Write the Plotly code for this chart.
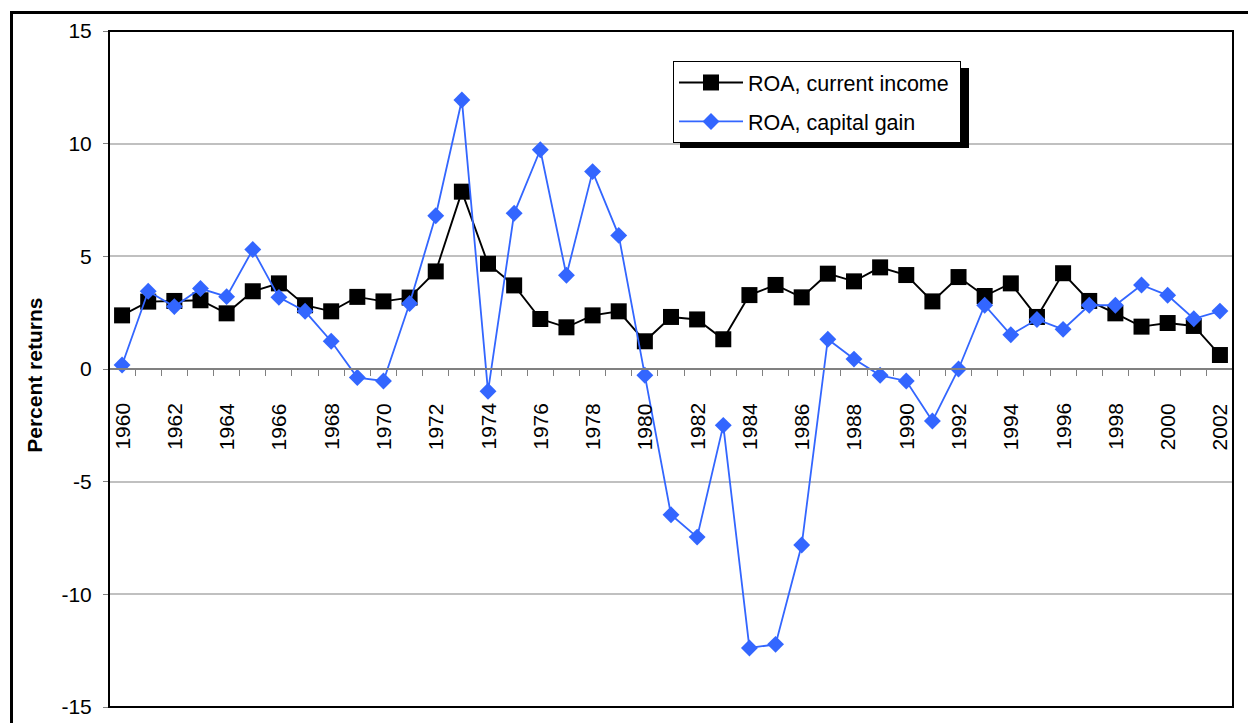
import plotly.graph_objects as go

years = list(range(1960, 2003))
roa_current_income = [2.38, 2.99, 3.02, 3.05, 2.47, 3.45, 3.80, 2.83, 2.56, 3.20,
                      3.00, 3.17, 4.33, 7.87, 4.67, 3.71, 2.22, 1.85, 2.38, 2.56,
                      1.23, 2.31, 2.20, 1.32, 3.28, 3.73, 3.18, 4.23, 3.89, 4.51,
                      4.17, 3.00, 4.08, 3.24, 3.80, 2.31, 4.25, 3.02, 2.47, 1.88,
                      2.04, 1.91, 0.62]
roa_capital_gain = [0.18, 3.45, 2.77, 3.57, 3.21, 5.30, 3.18, 2.56, 1.23, -0.38,
                    -0.53, 2.91, 6.80, 11.94, -0.99, 6.91, 9.73, 4.16, 8.76, 5.93,
                    -0.28, -6.47, -7.46, -2.50, -12.38, -12.22, -7.81, 1.32, 0.44, -0.28,
                    -0.53, -2.31, 0.00, 2.83, 1.52, 2.20, 1.76, 2.83, 2.83, 3.73,
                    3.27, 2.23, 2.57]
x_tick_vals = list(range(1960, 2003, 2))
x_tick_text = [str(v) for v in x_tick_vals]
y_tick_vals = [-15, -10, -5, 0, 5, 10, 15]
y_tick_text = ["-15", "-10", "-5", "0", "5", "10", "15"]

FONT = "Arial, Liberation Sans, sans-serif"
W, H = 1248, 723
ML, MR, MT, MB = 109, 15, 31, 16
PW, PH = W - ML - MR, H - MT - MB


def px_x(p):
    return (p - ML) / PW


def px_y(p):
    return (H - MB - p) / PH


fig = go.Figure()
fig.add_trace(go.Scatter(
    x=years, y=roa_current_income, name="ROA, current income\u00a0",
    mode="lines+markers", legendgroup="a",
    line=dict(color="black", width=1.9),
    marker=dict(symbol="square", size=16, color="black"),
))
fig.add_trace(go.Scatter(
    x=years, y=roa_capital_gain, name="ROA, capital gain",
    mode="lines+markers", legendgroup="b",
    line=dict(color="#3366ff", width=1.8),
    marker=dict(symbol="diamond", size=13, color="#3366ff"),
))

shapes = [
    dict(type="rect", xref="paper", yref="paper",
         x0=px_x(11.5), x1=px_x(1300), y0=px_y(760), y1=px_y(12.5),
         line=dict(color="black", width=3), fillcolor="rgba(0,0,0,0)", layer="above"),
    dict(type="rect", xref="paper", yref="paper", x0=0, x1=1, y0=0, y1=1,
         line=dict(color="black", width=2), fillcolor="rgba(0,0,0,0)", layer="above"),
    dict(type="rect", xref="paper", yref="paper",
         x0=px_x(680), x1=px_x(969), y0=px_y(148), y1=px_y(68),
         line=dict(width=0), fillcolor="black", layer="above"),
]

annotations = [dict(
    text="<b>Percent returns</b>", xref="paper", yref="paper",
    x=px_x(35), y=0.49, xanchor="center", yanchor="middle",
    textangle=-90, showarrow=False, font=dict(family=FONT, size=21, color="black"),
)]
# year labels hanging below the zero line
for v, t in zip(x_tick_vals, x_tick_text):
    annotations.append(dict(
        text=t, xref="x", yref="y", x=v, y=0, xanchor="center", yanchor="top",
        yshift=-33, textangle=-90, showarrow=False, borderpad=0,
        font=dict(family=FONT, size=21, color="black"),
    ))

fig.update_layout(
    width=W, height=H,
    margin=dict(l=ML, r=MR, t=MT, b=MB, autoexpand=False),
    paper_bgcolor="white", plot_bgcolor="white",
    font=dict(family=FONT, size=21, color="black"),
    showlegend=True,
    legend=dict(
        x=px_x(673), y=px_y(61), xanchor="left", yanchor="top",
        bgcolor="white", bordercolor="black", borderwidth=1,
        font=dict(family=FONT, size=21.5, color="black"),
        tracegroupgap=8, itemwidth=64,
    ),
    shapes=shapes,
    annotations=annotations,
    xaxis=dict(
        range=[1959.5, 2002.5], anchor="free", position=0.5, automargin=False,
        tickmode="array", tickvals=x_tick_vals, ticks="", showticklabels=False,
        showline=True, linecolor="#808080", linewidth=1.5,
        showgrid=False, zeroline=False,
        minor=dict(tick0=1959.5, dtick=1, ticks="outside", ticklen=6,
                   tickcolor="#808080", tickwidth=1, showgrid=False),
    ),
    yaxis=dict(
        range=[-15, 15], tickmode="array", tickvals=y_tick_vals, ticktext=y_tick_text,
        automargin=False,
        ticks="outside", ticklen=5, tickcolor="#808080", ticklabelstandoff=7,
        tickfont=dict(family=FONT, size=21, color="black"),
        showgrid=True, gridcolor="#c0c0c0", gridwidth=1.5,
        zeroline=False, showline=False,
    ),
)

fig.write_html("out.html", config={"displayModeBar": False},
               post_script="document.body.style.margin='0';")
